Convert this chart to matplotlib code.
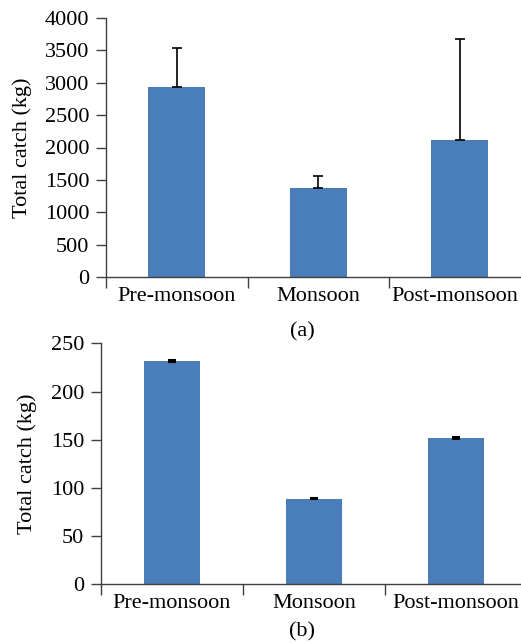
import matplotlib
matplotlib.use("Agg")
import matplotlib.pyplot as plt
import matplotlib.transforms as mtransforms
import numpy as np

categories = ["Pre-monsoon", "Monsoon", "Post-monsoon"]
catch_a = [2940, 1370, 2110]
err_a = [600, 190, 1570]
catch_b = [232, 89, 152]
err_b = [1, 1, 1]
yticks_a = [0, 500, 1000, 1500, 2000, 2500, 3000, 3500, 4000]
yticks_b = [0, 50, 100, 150, 200, 250]

plt.rcParams['font.family'] = ['Liberation Serif', 'DejaVu Serif']
W, H = 521, 644
fig = plt.figure(figsize=(W / 100, H / 100), dpi=100)
bar_color = '#4A7EBB'
axcol = '#404040'
fs = 16


def style(ax, yticks, ymax, ylabelpad):
    x = np.arange(len(categories))
    ax.set_xlim(-0.5, len(categories) - 0.5)
    ax.set_ylim(0, ymax)
    ax.set_yticks(yticks)
    ax.set_xticks(x)
    ax.set_xticklabels(categories, fontsize=fs)
    ax.set_xticks(np.arange(-0.5, len(categories) + 0.5, 1), minor=True)
    ax.tick_params(axis='x', which='major', length=0, pad=7)
    ax.tick_params(axis='x', which='minor', length=8, width=1, color=axcol, direction='out')
    ax.tick_params(axis='y', which='major', length=7, width=1, color=axcol, labelsize=fs, pad=5)
    for s in ['top', 'right']:
        ax.spines[s].set_visible(False)
    for s in ['left', 'bottom']:
        ax.spines[s].set_color(axcol)
        ax.spines[s].set_linewidth(1)
    ax.set_ylabel("Total catch (kg)", fontsize=fs, labelpad=ylabelpad)


# Panel (a)
ax1 = fig.add_axes([106 / W, 1 - 277 / H, 424.5 / W, (277 - 18) / H])
x = np.arange(len(categories))
ax1.bar(x, catch_a, width=0.40, color=bar_color, zorder=2)
ax1.errorbar(x, catch_a, yerr=[np.zeros(len(err_a)), err_a], fmt='none',
             ecolor='black', elinewidth=1.2, capsize=3.5, capthick=1.2, zorder=3)
style(ax1, yticks_a, 4000, 9)
# keep last label inside the canvas
lbl = ax1.get_xticklabels()[-1]
lbl.set_transform(lbl.get_transform() + mtransforms.ScaledTranslation(-5 / 100, 0, fig.dpi_scale_trans))
fig.text(302 / W, 1 - 332 / H, "(a)", fontsize=fs, ha='center', va='center')

# Panel (b)
ax2 = fig.add_axes([101 / W, 1 - 584.3 / H, 426 / W, (584.3 - 343.3) / H])
ax2.bar(x, catch_b, width=0.39, color=bar_color, zorder=2)
ax2.errorbar(x, catch_b, yerr=err_b, fmt='none',
             ecolor='black', elinewidth=1.5, capsize=3, capthick=1.5, zorder=3)
style(ax2, yticks_b, 250, 10)
fig.text(302 / W, 1 - 632 / H, "(b)", fontsize=fs, ha='center', va='center')

fig.savefig("out.png", dpi=100)
